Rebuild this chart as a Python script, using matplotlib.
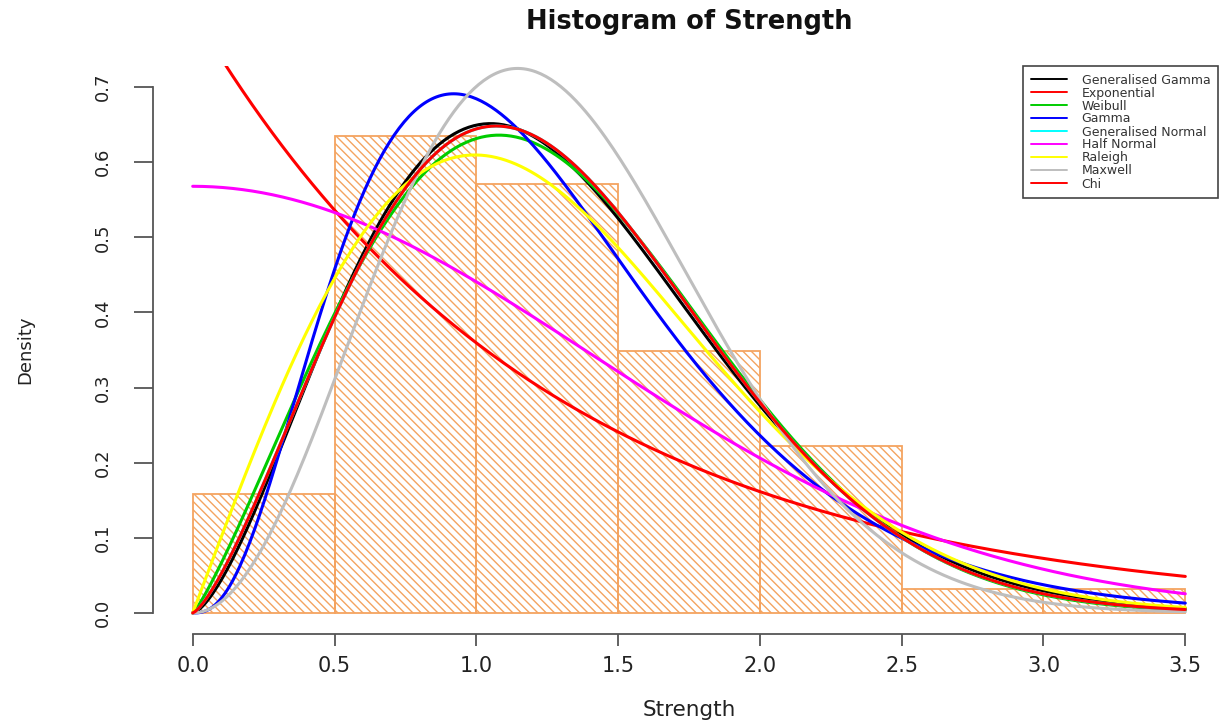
import math
import numpy as np
import matplotlib
matplotlib.use("Agg")
import matplotlib.pyplot as plt

# ---------------- data ----------------
bin_edges = [0.0, 0.5, 1.0, 1.5, 2.0, 2.5, 3.0, 3.5]
bin_density = [0.1587, 0.6349, 0.5714, 0.3492, 0.2222, 0.0317, 0.0317]

x_ticks = [0.0, 0.5, 1.0, 1.5, 2.0, 2.5, 3.0, 3.5]
x_tick_labels = ["0.0", "0.5", "1.0", "1.5", "2.0", "2.5", "3.0", "3.5"]
y_ticks = [0.0, 0.1, 0.2, 0.3, 0.4, 0.5, 0.6, 0.7]
y_tick_labels = ["0.0", "0.1", "0.2", "0.3", "0.4", "0.5", "0.6", "0.7"]

legend_labels = ["Generalised Gamma", "Exponential", "Weibull", "Gamma",
                 "Generalised Normal", "Half Normal", "Raleigh", "Maxwell", "Chi"]
legend_colors = ["#000000", "#FF0000", "#00CC00", "#0000FF",
                 "#00FFFF", "#FF00FF", "#FFFF00", "#BEBEBE", "#FF0000"]

# fitted distribution parameters
gengamma_params = (1.162, 2.5, 1.8)      # scale a, shape d, power p
exp_rate = 0.8
weibull_params = (2.18, 1.431)           # shape k, scale lambda
gamma_params = (3.7, 2.935)              # shape, rate
gennormal_params = (0.921 * math.sqrt(2), 2.35, 2.0)  # a, d, p
halfnormal_sigma = 1.405
rayleigh_sigma = 0.995
maxwell_a = 0.81
chi_params = (2.35, 0.921)               # df k, scale s


# ---------------- pdfs ----------------
def pdf_gengamma(x, a, d, p):
    return p * x ** (d - 1) * np.exp(-(x / a) ** p) / (a ** d * math.gamma(d / p))

def pdf_exp(x, lam):
    return lam * np.exp(-lam * x)

def pdf_weibull(x, k, lam):
    return (k / lam) * (x / lam) ** (k - 1) * np.exp(-(x / lam) ** k)

def pdf_gamma(x, k, rate):
    return rate ** k * x ** (k - 1) * np.exp(-rate * x) / math.gamma(k)

def pdf_halfnormal(x, s):
    return math.sqrt(2 / math.pi) / s * np.exp(-x ** 2 / (2 * s ** 2))

def pdf_rayleigh(x, s):
    return x / s ** 2 * np.exp(-x ** 2 / (2 * s ** 2))

def pdf_maxwell(x, a):
    return math.sqrt(2 / math.pi) * x ** 2 * np.exp(-x ** 2 / (2 * a ** 2)) / a ** 3

def pdf_chi(x, k, s):
    return x ** (k - 1) * np.exp(-x ** 2 / (2 * s ** 2)) / (2 ** (k / 2 - 1) * math.gamma(k / 2) * s ** k)


xs = np.linspace(0, 3.5, 400)
curves = [
    pdf_gengamma(xs, *gengamma_params),
    pdf_exp(xs, exp_rate),
    pdf_weibull(xs, *weibull_params),
    pdf_gamma(xs, *gamma_params),
    pdf_gengamma(xs, *gennormal_params),
    pdf_halfnormal(xs, halfnormal_sigma),
    pdf_rayleigh(xs, rayleigh_sigma),
    pdf_maxwell(xs, maxwell_a),
    pdf_chi(xs, *chi_params),
]

# ---------------- figure ----------------
plt.rcParams['font.family'] = ['DejaVu Sans']
plt.rcParams['hatch.linewidth'] = 1.0

W, H = 1225, 727
fig = plt.figure(figsize=(W / 100, H / 100), dpi=100)
ax_left, ax_right, ax_top, ax_bottom = 153, 1225, 66, 634
ax = fig.add_axes([ax_left / W, 1 - ax_bottom / H,
                   (ax_right - ax_left) / W, (ax_bottom - ax_top) / H])

hist_color = "#F4A460"
widths = np.diff(bin_edges)
ax.bar(bin_edges[:-1], bin_density, width=widths, align="edge",
       fill=False, hatch="\\\\\\\\", edgecolor=hist_color, linewidth=1.3)

for y, c, lab in zip(curves, legend_colors, legend_labels):
    ax.plot(xs, y, color=c, lw=2.2, label=lab, solid_capstyle="round")

ax.set_xlim(-0.14, 3.64)
ax.set_ylim(-0.028, 0.728)

for s in ["top", "right"]:
    ax.spines[s].set_visible(False)
ax.spines["left"].set_bounds(0, 0.7)
ax.spines["bottom"].set_bounds(0, 3.5)
for s in ["left", "bottom"]:
    ax.spines[s].set_color("#555555")
    ax.spines[s].set_linewidth(1.3)

ax.set_xticks(x_ticks)
ax.set_xticklabels(x_tick_labels)
ax.set_yticks(y_ticks)
ax.set_yticklabels(y_tick_labels, rotation=90, va="center")
ax.tick_params(axis="x", length=8.6, width=1.3, color="#555555",
               labelsize=15, labelcolor="#222222", pad=7)
ax.tick_params(axis="y", length=13.5, width=1.3, color="#555555",
               labelsize=13, labelcolor="#222222", pad=16)

ax.set_xlabel("Strength", fontsize=15.5, color="#222222")
ax.xaxis.label.set_va("center")
ax.xaxis.set_label_coords(0.5, (ax_bottom - 710) / (ax_bottom - ax_top))
ax.set_ylabel("Density", fontsize=13, color="#222222")
ax.yaxis.label.set_va("center")
ax.yaxis.set_label_coords((25 - ax_left) / (ax_right - ax_left), 0.5)

ax.set_title("Histogram of Strength", fontsize=18.5, fontweight="bold",
             color="#111111", y=(ax_bottom - 22) / (ax_bottom - ax_top),
             va="center", pad=0)

leg = ax.legend(loc="upper right", bbox_to_anchor=(1218 / W, 1 - 66 / H),
                bbox_transform=fig.transFigure, fontsize=9, frameon=True,
                fancybox=False, edgecolor="#444444", framealpha=1,
                handlelength=2.9, handletextpad=1.2, labelspacing=0.0,
                borderpad=0.6, borderaxespad=0)
leg.get_frame().set_linewidth(1.2)
for line in leg.get_lines():
    line.set_linewidth(1.4)
for t in leg.get_texts():
    t.set_color("#333333")

fig.savefig("out.png", dpi=100)
